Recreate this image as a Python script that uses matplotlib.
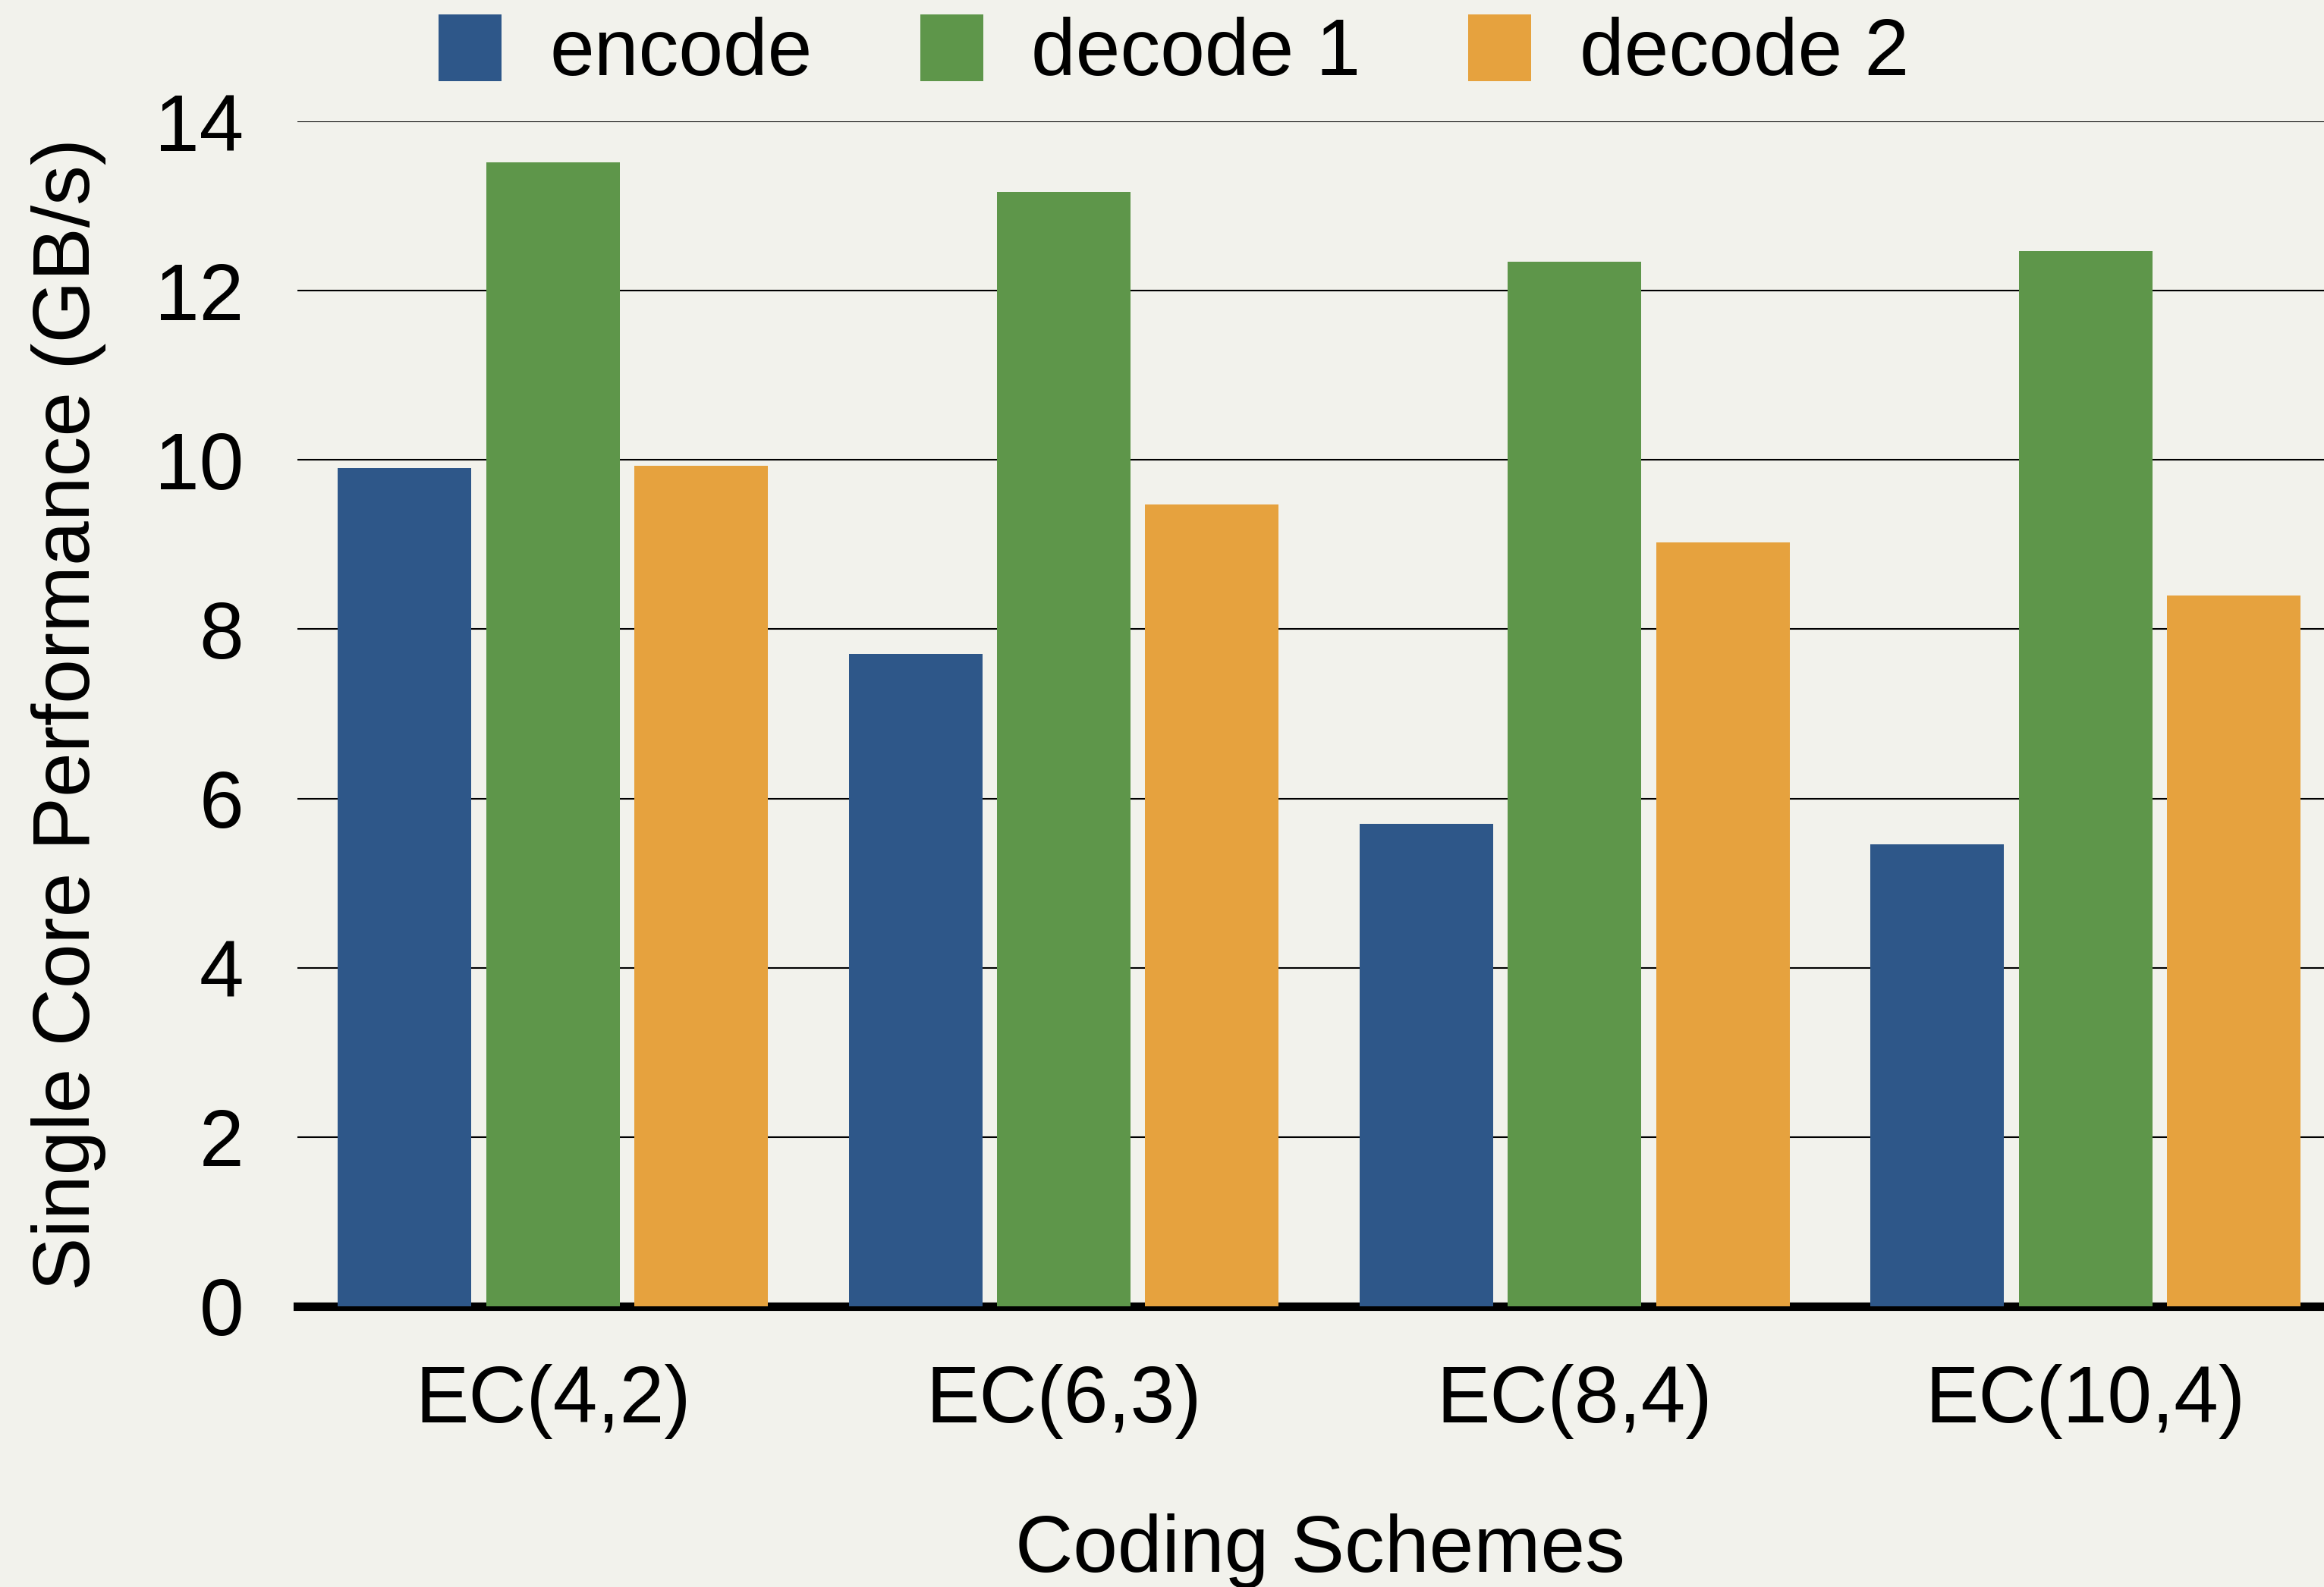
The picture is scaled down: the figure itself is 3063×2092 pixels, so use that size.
import numpy as np
import matplotlib.pyplot as plt

plt.rcParams['font.family'] = ['Liberation Sans', 'DejaVu Sans']

# Throughput per coding scheme (GB/s)
schemes = ["EC(4,2)", "EC(6,3)", "EC(8,4)", "EC(10,4)"]
encode = [9.90, 7.71, 5.70, 5.46]
decode1 = [13.52, 13.17, 12.34, 12.47]
decode2 = [9.93, 9.47, 9.03, 8.40]
series_names = ["encode", "decode 1", "decode 2"]
yticks = [0, 2, 4, 6, 8, 10, 12, 14]

colors = ["#2E5789", "#5E964A", "#E6A23E"]
bg = "#F2F2EC"
fs = 76

fig = plt.figure(figsize=(30.63, 20.92), dpi=100, facecolor=bg)
ax = fig.add_axes([0.128, 0.1769, 0.872, 0.7466], facecolor=bg)

x = np.arange(len(schemes))
pitch = 0.29
width = 0.2615
for i, (vals, name) in enumerate(zip([encode, decode1, decode2], series_names)):
    ax.bar(x + (i - 1) * pitch, vals, width, color=colors[i], label=name, zorder=3)

ax.set_xlim(-0.5, 3.467)
ax.set_ylim(0, 14)
ax.set_yticks(yticks)
ax.set_xticks(x)
ax.set_xticklabels(schemes)

# horizontal grid + heavy baseline
for t in yticks[1:]:
    ax.axhline(t, color="black", lw=1.5, zorder=1)
ax.axhline(0, color="black", lw=8, zorder=2, clip_on=False)

for s in ax.spines.values():
    s.set_visible(False)
ax.tick_params(axis="both", length=0, labelsize=fs)
ax.tick_params(axis="y", pad=51)
ax.tick_params(axis="x", pad=55)

fig.text(0.0457, 0.55, "Single Core Performance (GB/s)", rotation=90,
         ha="right", va="center", fontsize=fs)
fig.text(1740 / 3063, 0.0096, "Coding Schemes", ha="center", va="baseline", fontsize=fs)

fig.legend(loc="center", bbox_to_anchor=(0.505, 0.9665), ncol=3, frameon=False,
           fontsize=fs, handlelength=0.79, handleheight=0.9, handletextpad=0.6,
           columnspacing=1.34, borderpad=0, borderaxespad=0)

fig.savefig("out.png", dpi=100, facecolor=bg)
